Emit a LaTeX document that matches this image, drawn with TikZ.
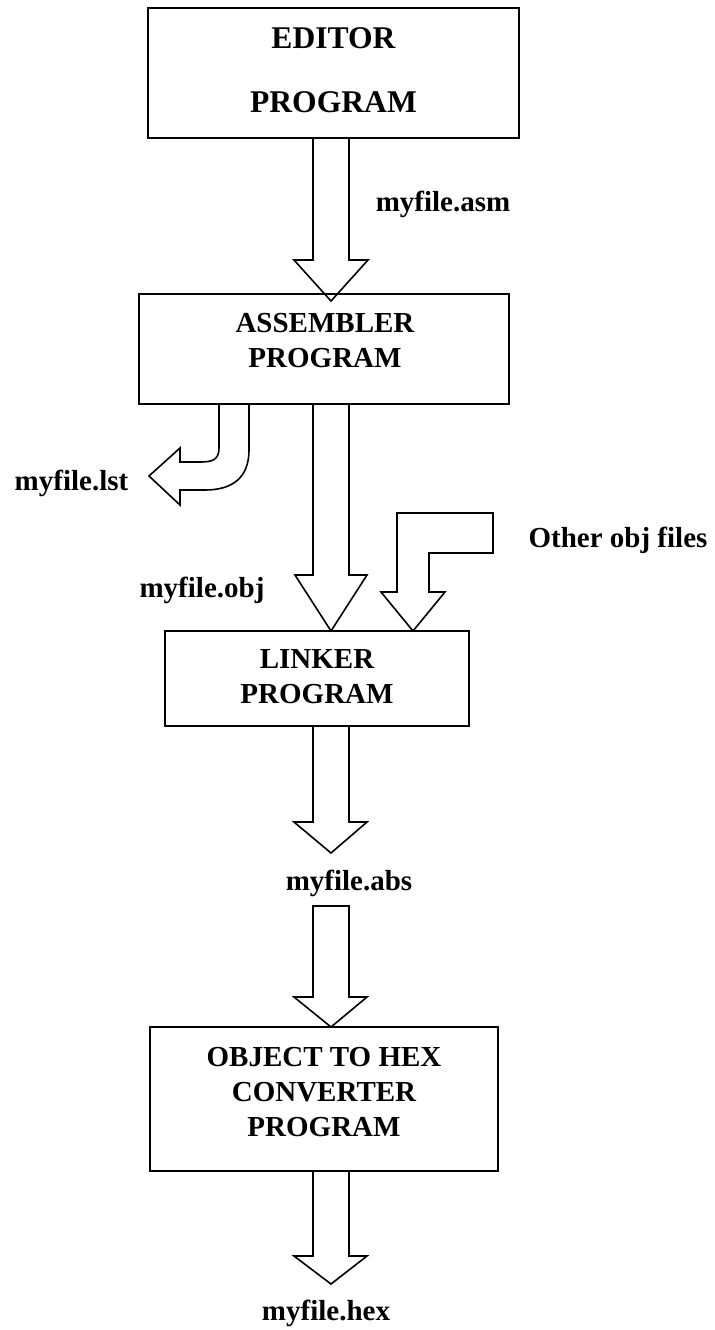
\documentclass[tikz,border=0pt]{standalone}
\usepackage{fontspec}
\setmainfont{Liberation Serif}
\usetikzlibrary{calc}
\begin{document}
\begin{tikzpicture}[x=0.5pt,y=-0.5pt,
  box/.style={draw,line width=1pt,inner sep=0pt,outer sep=0pt},
  blk/.style={draw,line width=0.8pt,line join=miter},
  lbl/.style={font=\fontsize{14.5}{17.5}\selectfont\bfseries,inner sep=0pt,align=center},
  big/.style={font=\fontsize{15.8}{19}\selectfont\bfseries,inner sep=0pt}]
\useasboundingbox (0,0) rectangle (714,1330);

% boxes
\node[box,minimum width=185.5pt,minimum height=65pt] (editor) at (333.5,73) {};
\node[big] (editorA) at (333.5,38) {EDITOR};
\node[big] (editorB) at (333.5,102) {PROGRAM};

\node[box,minimum width=185pt,minimum height=55pt] (asm) at (324,349) {};
\node[lbl] (asmT) at (325,340.5) {ASSEMBLER\\PROGRAM};

\node[box,minimum width=152pt,minimum height=47.5pt] (linker) at (317,678.5) {};
\node[lbl] (linkerT) at (317,676.5) {LINKER\\PROGRAM};

\node[box,minimum width=174pt,minimum height=72pt] (obj) at (324,1099) {};
\node[lbl] (objT) at (324,1092) {OBJECT TO HEX\\CONVERTER\\PROGRAM};

% labels
\node[lbl] (asmL) at (443,204) {myfile.asm};
\node[lbl] (lstL) at (71.5,483) {myfile.lst};
\node[lbl] (objL) at (202,590) {myfile.obj};
\node[lbl] (othL) at (618,540) {Other obj files};
\node[lbl] (absL) at (349,883) {myfile.abs};
\node[lbl] (hexL) at (326,1313) {myfile.hex};

% columns
\coordinate (xL) at (313,0);
\coordinate (xR) at (349,0);
\coordinate (xC) at (331,0);
\coordinate (xO) at (413,0);
\coordinate (xI) at (219,0);
\coordinate (xE) at (249,0);
\coordinate (absTip) at (331,853);
\coordinate (absTop) at (331,906);
\coordinate (hexTip) at (331,1284);

% editor -> assembler
\draw[blk] (editor.south -| xL) -- (313,260) -- (294,260) -- ($(asm.north -| xC)+(0,7)$)
  -- (368,260) -- (349,260) -- (editor.south -| xR);

% assembler -> linker
\draw[blk] (asm.south -| xL) -- (313,575) -- (295,575) -- (linker.north -| xC)
  -- (367,575) -- (349,575) -- (asm.south -| xR);

% assembler -> myfile.lst (bent)
\draw[blk] (asm.south -| xI) -- (219,448) .. controls (219,460) and (212,462) .. (200,462)
  -- (180,462) -- (180,448) -- (149,476) -- (180,505) -- (180,490) -- (205,490)
  .. controls (232,490) and (249,478) .. (249,450) -- (asm.south -| xE);

% other obj files -> linker
\draw[blk] (linker.north -| xO) -- (381,592) -- (397,592) -- (397,513) -- (493,513)
  -- (493,553) -- (429,553) -- (429,592) -- (445,592) -- cycle;

% linker -> myfile.abs
\draw[blk] (linker.south -| xL) -- (313,822) -- (294,822) -- (absTip)
  -- (367,822) -- (349,822) -- (linker.south -| xR);

% myfile.abs -> object to hex
\draw[blk] ($(absTop)+(-18,0)$) -- (313,997) -- (294,997) -- (obj.north -| xC)
  -- (367,997) -- (349,997) -- ($(absTop)+(18,0)$) -- cycle;

% object to hex -> myfile.hex
\draw[blk] (obj.south -| xL) -- (313,1256) -- (294,1256) -- (hexTip)
  -- (367,1256) -- (349,1256) -- (obj.south -| xR);
\end{tikzpicture}
\end{document}
